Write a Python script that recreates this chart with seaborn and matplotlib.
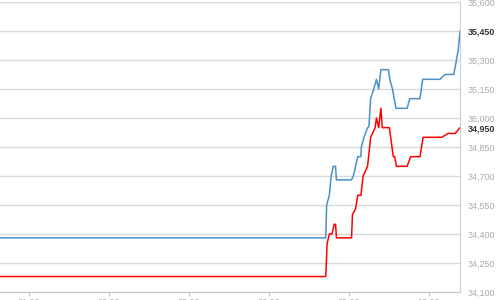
import matplotlib
matplotlib.use("Agg")
import matplotlib.pyplot as plt
import matplotlib.dates as mdates
import seaborn as sns
import pandas as pd

blue_times = ["2024-01-01 19:55", "2024-01-02 08:08", "2024-01-02 08:10", "2024-01-02 08:16",
              "2024-01-02 08:20", "2024-01-02 08:25", "2024-01-02 08:30", "2024-01-02 08:32",
              "2024-01-02 09:06", "2024-01-02 09:10", "2024-01-02 09:13", "2024-01-02 09:20",
              "2024-01-02 09:27", "2024-01-02 09:28", "2024-01-02 09:34", "2024-01-02 09:42",
              "2024-01-02 09:45", "2024-01-02 09:49", "2024-01-02 09:56", "2024-01-02 10:02",
              "2024-01-02 10:07", "2024-01-02 10:12", "2024-01-02 10:29", "2024-01-02 10:32",
              "2024-01-02 10:38", "2024-01-02 10:42", "2024-01-02 10:46", "2024-01-02 11:11",
              "2024-01-02 11:17", "2024-01-02 11:40", "2024-01-02 11:46", "2024-01-02 12:25",
              "2024-01-02 12:36", "2024-01-02 12:56", "2024-01-02 13:06", "2024-01-02 13:10"]
blue_values = [34380, 34380, 34550, 34600, 34700, 34750, 34750, 34680,
               34680, 34700, 34730, 34800, 34800, 34850, 34900, 34950,
               34955, 35100, 35150, 35200, 35150, 35250, 35250, 35200,
               35150, 35100, 35050, 35050, 35100, 35100, 35200, 35200,
               35225, 35225, 35350, 35450]

red_times = ["2024-01-01 19:55", "2024-01-02 08:08", "2024-01-02 08:11", "2024-01-02 08:16",
             "2024-01-02 08:22", "2024-01-02 08:27", "2024-01-02 08:30", "2024-01-02 08:32",
             "2024-01-02 09:06", "2024-01-02 09:08", "2024-01-02 09:15", "2024-01-02 09:20",
             "2024-01-02 09:27", "2024-01-02 09:32", "2024-01-02 09:42", "2024-01-02 09:49",
             "2024-01-02 09:59", "2024-01-02 10:02", "2024-01-02 10:07", "2024-01-02 10:12",
             "2024-01-02 10:15", "2024-01-02 10:31", "2024-01-02 10:34", "2024-01-02 10:40",
             "2024-01-02 10:43", "2024-01-02 10:47", "2024-01-02 11:11", "2024-01-02 11:19",
             "2024-01-02 11:40", "2024-01-02 11:47", "2024-01-02 12:29", "2024-01-02 12:43",
             "2024-01-02 12:59", "2024-01-02 13:10"]
red_values = [34180, 34180, 34350, 34400, 34400, 34450, 34450, 34380,
              34380, 34500, 34530, 34600, 34600, 34700, 34750, 34900,
              34950, 35000, 34950, 35050, 34950, 34950, 34900, 34800,
              34800, 34750, 34750, 34800, 34800, 34900, 34900, 34920,
              34920, 34950]

x_tick_times = ["2024-01-01 21:00", "2024-01-02 00:00", "2024-01-02 03:00",
                "2024-01-02 06:00", "2024-01-02 09:00", "2024-01-02 12:00"]
y_ticks = [34100, 34250, 34400, 34550, 34700, 34850, 35000, 35150, 35300, 35450, 35600]
x_range = ["2024-01-01 19:55", "2024-01-02 13:10"]

blue = pd.DataFrame({"time": pd.to_datetime(blue_times), "value": blue_values})
red = pd.DataFrame({"time": pd.to_datetime(red_times), "value": red_values})

sns.set_theme(style="white")
plt.rcParams["font.family"] = ["Liberation Sans", "DejaVu Sans"]

fig = plt.figure(figsize=(5, 3), dpi=100)
ax = fig.add_axes([0.0, 0.0267, 0.92, 0.9667])

sns.lineplot(data=blue, x="time", y="value", color="#4a90c8", linewidth=1.1, ax=ax)
sns.lineplot(data=red, x="time", y="value", color="#ff0000", linewidth=1.1, ax=ax)

ax.set_xlim(pd.to_datetime(x_range[0]), pd.to_datetime(x_range[1]))
ax.set_ylim(y_ticks[0], y_ticks[-1])
ax.set_xlabel("")
ax.set_ylabel("")

ax.set_xticks(pd.to_datetime(x_tick_times))
ax.xaxis.set_major_formatter(mdates.DateFormatter("%H:%M"))
ax.tick_params(axis="x", bottom=True, length=3, width=0.8, color="#c8c8c8",
               labelsize=6.5, labelcolor="#aaaaaa", pad=1)

ax.yaxis.remove_overlapping_locs = False
ax.yaxis.tick_right()
ax.set_yticks(y_ticks)
ax.set_yticklabels([f"{v:,}" for v in y_ticks])
ax.set_yticks([blue_values[-1], red_values[-1]], minor=True)
ax.set_yticklabels([f"{blue_values[-1]:,}", f"{red_values[-1]:,}"], minor=True)
ax.tick_params(axis="y", which="both", length=0, pad=5.5)
ax.tick_params(axis="y", which="major", labelsize=6.5, labelcolor="#aaaaaa")
ax.tick_params(axis="y", which="minor", labelsize=6.5, labelcolor="#333333")
for lbl in ax.get_yticklabels(minor=True):
    lbl.set_fontweight("bold")
for lbl, v in zip(ax.get_yticklabels(), y_ticks):
    if v == blue_values[-1]:
        lbl.set_visible(False)

ax.grid(axis="y", which="major", color="#d9d9d9", linewidth=1.0)
ax.grid(axis="y", which="minor", visible=False)
ax.grid(axis="x", visible=False)

for side in ["left", "top"]:
    ax.spines[side].set_visible(False)
ax.spines["bottom"].set_color("#c8c8c8")
ax.spines["right"].set_color("#d0d0d0")
ax.spines["bottom"].set_linewidth(0.8)
ax.spines["right"].set_linewidth(0.8)

fig.savefig("out.png", dpi=100)
